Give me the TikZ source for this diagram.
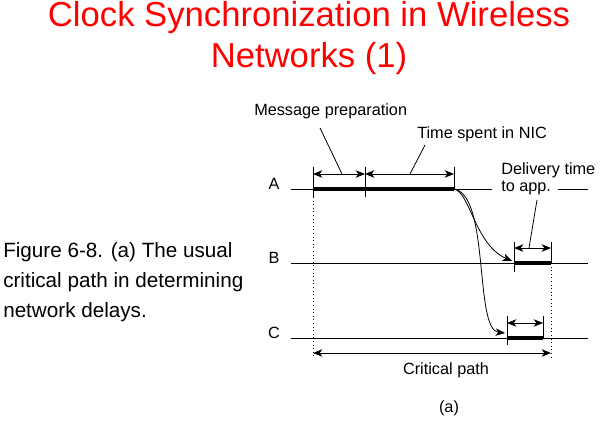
\documentclass[tikz,border=0pt]{standalone}
\usepackage{fontspec}
\setmainfont{Liberation Sans}
\usepackage{tikz}
\usetikzlibrary{arrows.meta,positioning,calc}
\definecolor{titlered}{RGB}{255,0,0}
\tikzstyle{timeline} = [line width=0.7pt, color=black]
\tikzstyle{bar} = [line width=2.8pt, color=black]
\tikzstyle{tick} = [line width=0.7pt, color=black]
\tikzstyle{dim} = [line width=0.7pt, <->]
\tikzstyle{leader} = [line width=0.6pt]
\tikzstyle{guide} = [line width=0.7pt, dotted]
\tikzstyle{hop} = [line width=0.6pt, ->]
\tikzstyle{lbl} = [inner sep=0pt, font=\fontsize{12.2}{12.75}\selectfont]

\begin{document}
\begin{tikzpicture}[x=0.75pt, y=-0.75pt, >={Stealth[length=7pt,width=5.6pt,inset=2pt]}]
\useasboundingbox (0,0) rectangle (600,421);

% Title and caption
\node[anchor=base, align=center, text=titlered, inner sep=0pt,
  font=\fontsize{26}{30.75}\selectfont] (title) at (309,67)
  {Clock Synchronization in Wireless\\Networks (1)};
\node[anchor=base west, align=left, inner sep=0pt,
  font=\fontsize{15.5}{22.5}\selectfont] (caption) at (3,317)
  {Figure 6-8. (a) The usual\\critical path in determining\\network delays.};

% Points on the three time lines
\coordinate (Aw) at (291,189); \coordinate (Ae) at (588,189);
\coordinate (gapL) at (492,189); \coordinate (gapR) at (558,189);
\coordinate (a1) at (313,189); \coordinate (a2) at (365,189); \coordinate (a3) at (454,189);
\coordinate (Bw) at (291,263); \coordinate (Be) at (588,263);
\coordinate (b1) at (514,263); \coordinate (b2) at (551,263);
\coordinate (Cw) at (291,338); \coordinate (Ce) at (588,338);
\coordinate (c1) at (507,338); \coordinate (c2) at (543,338);

% Machine names
\node[lbl, anchor=base] (nameA) at (274,189) {A};
\node[lbl, anchor=base] (nameB) at (274,263) {B};
\node[lbl, anchor=base] (nameC) at (274,338) {C};

% Time lines and busy bars
\draw[timeline] (Aw) -- (gapL) (gapR) -- (Ae);
\draw[timeline] (Bw) -- (Be);
\draw[timeline] (Cw) -- (Ce);
\draw[bar] (a1) -- (a3);
\draw[bar] (b1) -- (b2);
\draw[bar] (c1) -- (c2);

% Ticks
\draw[tick] (a1) ++(0,-22) -- ++(0,30);
\draw[tick] (a2) ++(0,-22) -- ++(0,30);
\draw[tick] (a3) ++(0,-22) -- ++(0,22);
\draw[tick] (b1) ++(0,-21) -- ++(0,30);
\draw[tick] (b2) ++(0,-21) -- ++(0,21);
\draw[tick] (c1) ++(0,-22) -- ++(0,29);
\draw[tick] (c2) ++(0,-22) -- ++(0,22);
\draw[guide] ($(a1)+(0,8)$) -- ($(a1)+(0,169)$);
\draw[guide] (b2) -- ($(b2)+(0,95)$);

% Spans
\draw[dim] ($(a1)+(0,-15)$) -- ($(a2)+(0,-15)$);
\draw[dim] ($(a2)+(0,-15)$) -- ($(a3)+(0,-15)$);
\draw[dim] ($(b1)+(0,-15)$) -- ($(b2)+(0,-15)$);
\draw[dim] ($(c1)+(0,-15)$) -- ($(c2)+(0,-15)$);
\draw[dim] ($(a1)+(0,164)$) -- ($(b2)+(0,90)$);

% Messages from A to B and C
\draw[hop] (a3) .. controls (470,192) and (475,245) .. ($(b1)+(-2,-2)$);
\draw[hop] (a3) .. controls (490,195) and (474,330) .. ($(c1)+(-2,-5)$);

% Labels with leaders
\node[lbl, anchor=base west] (prep) at (254,115) {Message preparation};
\node[lbl, anchor=base west] (nic) at (417,138) {Time spent in NIC};
\node[lbl, anchor=base west, align=left] (deliv) at (501,191) {Delivery time\\to app.};
\node[lbl, anchor=base] (crit) at (446,374) {Critical path};
\node[lbl, anchor=base] (sub) at (449,412) {(a)};
\coordinate (prepfoot) at (320,128); \coordinate (prepend) at (342,174);
\coordinate (nicfoot) at (425,145); \coordinate (nicend) at (410,174);
\coordinate (delivfoot) at (537,200); \coordinate (delivend) at (529,248);
\draw[leader] (prepfoot) -- (prepend);
\draw[leader] (nicfoot) -- (nicend);
\draw[leader] (delivfoot) -- (delivend);
\end{tikzpicture}
\end{document}
